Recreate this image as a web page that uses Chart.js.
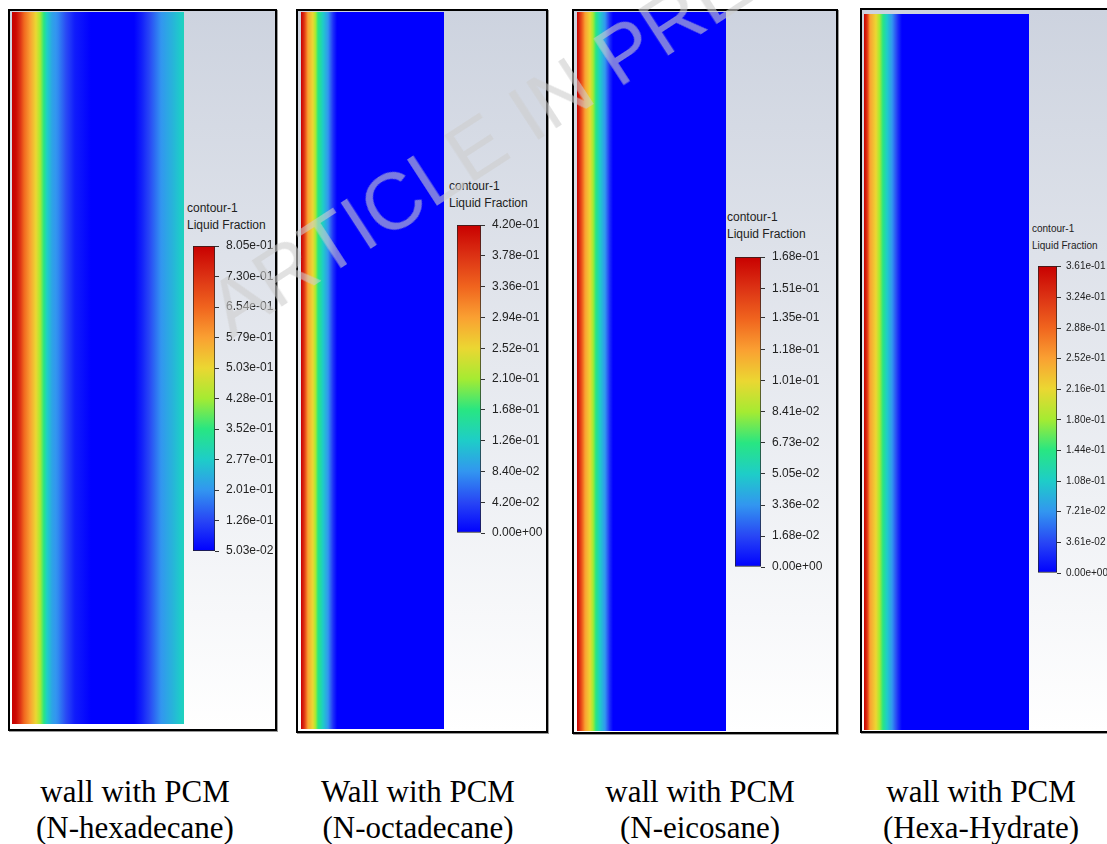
<!DOCTYPE html>
<html>
<head>
<meta charset="utf-8">
<script src="https://cdn.jsdelivr.net/npm/chart.js@4.4.1/dist/chart.umd.min.js"></script>
<style>
    body { margin: 0; width: 1107px; height: 844px; overflow: hidden; background: #fff; position: relative; font-family: "Liberation Sans", Arial, sans-serif; }
    .panel { position: absolute; border: 2px solid #000; box-sizing: border-box; background: linear-gradient(to bottom, #cdd3df 0%, #ffffff 100%); box-shadow: 1px 1px 0 #999; }
    canvas { position: absolute; }
    .ctitle { position: absolute; font-size: 12px; line-height: 17px; color: #222; white-space: nowrap; }
    .caption { position: absolute; width: 280px; text-align: center; font-family: "Liberation Serif", "Times New Roman", serif; font-size: 31px; line-height: 36px; color: #000; }
    .watermark { position: absolute; left: 232px; top: 272px; font-size: 80px; line-height: 80px; white-space: nowrap; color: rgba(205, 205, 205, 0.6); transform-origin: 0 68px; transform: rotate(-33deg); pointer-events: none; }
</style>
</head>
<body>
<div class="panel" style="left:8px;top:9px;width:269px;height:722px"></div>
<div class="panel" style="left:296px;top:9px;width:252px;height:724px"></div>
<div class="panel" style="left:572px;top:9px;width:266px;height:725px"></div>
<div class="panel" style="left:860px;top:8px;width:252px;height:725px"></div>

<canvas id="strip1" width="172" height="712" style="left:12px;top:12px"></canvas>
<canvas id="strip2" width="143" height="717" style="left:301px;top:12px"></canvas>
<canvas id="strip3" width="149" height="719" style="left:577px;top:12px"></canvas>
<canvas id="strip4" width="165" height="716" style="left:864px;top:14px"></canvas>

<div class="ctitle" style="left:187px;top:200px">contour-1<br>Liquid Fraction</div>
<div class="ctitle" style="left:449px;top:178px">contour-1<br>Liquid Fraction</div>
<div class="ctitle" style="left:727px;top:209px">contour-1<br>Liquid Fraction</div>
<div class="ctitle" style="left:1032px;top:220px;font-size:10px">contour-1<br>Liquid Fraction</div>

<canvas id="bar1" width="84" height="321" style="left:193px;top:238px"></canvas>
<canvas id="bar2" width="86" height="324" style="left:457px;top:217px"></canvas>
<canvas id="bar3" width="88" height="326" style="left:735px;top:249px"></canvas>
<canvas id="bar4" width="70" height="323" style="left:1038px;top:258px"></canvas>

<div class="caption" style="left:-5px;top:774px">wall with PCM<br>(N-hexadecane)</div>
<div class="caption" style="left:278px;top:774px">Wall with PCM<br>(N-octadecane)</div>
<div class="caption" style="left:560px;top:774px">wall with PCM<br>(N-eicosane)</div>
<div class="caption" style="left:841px;top:774px">wall with PCM<br>(Hexa-Hydrate)</div>

<div class="watermark">ARTICLE IN PRESS</div>

<script>
    // colour map (fraction of range -> rgb)
    var cmapStops = [0, 0.1, 0.2, 0.3, 0.4, 0.5, 0.6, 0.7, 0.8, 0.9, 1];
    var cmapColors = [
        [0, 0, 255], [40, 70, 245], [50, 150, 240], [30, 205, 200], [40, 230, 130],
        [165, 235, 50], [235, 215, 50], [250, 160, 50], [240, 100, 30], [220, 50, 20], [200, 0, 0]
    ];

    // liquid fraction across the wall (position = fraction of PCM layer thickness)
    var hexPos = [0, 0.023, 0.047, 0.070, 0.105, 0.140, 0.163, 0.186, 0.203, 0.233, 0.267, 0.314, 0.366, 0.459, 0.709, 0.750, 0.802, 0.866, 0.930, 1];
    var hexVal = [0.805, 0.79, 0.73, 0.65, 0.58, 0.50, 0.43, 0.35, 0.28, 0.22, 0.19, 0.13, 0.08, 0.0503, 0.0503, 0.08, 0.13, 0.20, 0.24, 0.29];
    var hexTicks = ['5.03e-02', '1.26e-01', '2.01e-01', '2.77e-01', '3.52e-01', '4.28e-01', '5.03e-01', '5.79e-01', '6.54e-01', '7.30e-01', '8.05e-01'];

    var octPos = [0, 0.021, 0.049, 0.084, 0.119, 0.154, 0.189, 0.224, 0.252, 1];
    var octVal = [0.42, 0.38, 0.29, 0.25, 0.17, 0.126, 0.084, 0.03, 0, 0];
    var octTicks = ['0.00e+00', '4.20e-02', '8.40e-02', '1.26e-01', '1.68e-01', '2.10e-01', '2.52e-01', '2.94e-01', '3.36e-01', '3.78e-01', '4.20e-01'];

    var eicPos = [0, 0.020, 0.054, 0.087, 0.128, 0.154, 0.188, 0.221, 0.242, 1];
    var eicVal = [0.168, 0.151, 0.118, 0.101, 0.067, 0.050, 0.034, 0.01, 0, 0];
    var eicTicks = ['0.00e+00', '1.68e-02', '3.36e-02', '5.05e-02', '6.73e-02', '8.41e-02', '1.01e-01', '1.18e-01', '1.35e-01', '1.51e-01', '1.68e-01'];

    var hydPos = [0, 0.018, 0.036, 0.073, 0.115, 0.139, 0.170, 0.206, 0.230, 1];
    var hydVal = [0.361, 0.325, 0.253, 0.216, 0.144, 0.108, 0.072, 0.025, 0, 0];
    var hydTicks = ['0.00e+00', '3.61e-02', '7.21e-02', '1.08e-01', '1.44e-01', '1.80e-01', '2.16e-01', '2.52e-01', '2.88e-01', '3.24e-01', '3.61e-01'];

    Chart.defaults.font.family = '"Liberation Sans", Arial, sans-serif';

    function cmap(t) {
        t = Math.max(0, Math.min(1, t));
        for (var i = 1; i < cmapStops.length; i++) {
            if (t <= cmapStops[i]) {
                var f = (t - cmapStops[i - 1]) / (cmapStops[i] - cmapStops[i - 1]);
                var a = cmapColors[i - 1], b = cmapColors[i];
                return 'rgb(' + Math.round(a[0] + (b[0] - a[0]) * f) + ',' + Math.round(a[1] + (b[1] - a[1]) * f) + ',' + Math.round(a[2] + (b[2] - a[2]) * f) + ')';
            }
        }
        return 'rgb(200,0,0)';
    }

    function stripFill(pos, val, vmin, vmax) {
        return function(context) {
            var chart = context.chart;
            if (!chart.chartArea) return 'blue';
            var xs = chart.scales.x;
            var x0 = xs.getPixelForValue(pos[0]);
            var x1 = xs.getPixelForValue(pos[pos.length - 1]);
            var g = chart.ctx.createLinearGradient(x0, 0, x1, 0);
            for (var i = 0; i < pos.length - 1; i++) {
                for (var k = 0; k < 8; k++) {
                    var f = k / 8;
                    var p = pos[i] + (pos[i + 1] - pos[i]) * f;
                    var v = val[i] + (val[i + 1] - val[i]) * f;
                    g.addColorStop((xs.getPixelForValue(p) - x0) / (x1 - x0), cmap((v - vmin) / (vmax - vmin)));
                }
            }
            g.addColorStop(1, cmap((val[val.length - 1] - vmin) / (vmax - vmin)));
            return g;
        };
    }

    function makeStrip(id, pos, val, ticks) {
        var vmin = parseFloat(ticks[0]), vmax = parseFloat(ticks[ticks.length - 1]);
        new Chart(document.getElementById(id).getContext('2d'), {
            type: 'bar',
            data: {
                labels: ['PCM'],
                datasets: [{
                    data: [[0, 1]],
                    backgroundColor: stripFill(pos, val, vmin, vmax),
                    borderWidth: 0,
                    barPercentage: 1,
                    categoryPercentage: 1
                }]
            },
            options: {
                indexAxis: 'y',
                responsive: false,
                animation: false,
                layout: { padding: 0 },
                plugins: { legend: { display: false }, tooltip: { enabled: false } },
                scales: {
                    x: { type: 'linear', min: 0, max: 1, display: false },
                    y: { display: false }
                }
            }
        });
    }

    function makeColorbar(id, ticks, barWidth, fontSize, tickPad) {
        var values = ticks.map(parseFloat);
        var vmin = values[0], vmax = values[values.length - 1];
        var canvas = document.getElementById(id);
        new Chart(canvas.getContext('2d'), {
            type: 'bar',
            data: {
                labels: [''],
                datasets: [{
                    data: [[vmin, vmax]],
                    backgroundColor: function(context) {
                        var chart = context.chart;
                        if (!chart.chartArea) return 'blue';
                        var ys = chart.scales.y;
                        var g = chart.ctx.createLinearGradient(0, ys.getPixelForValue(vmin), 0, ys.getPixelForValue(vmax));
                        for (var i = 0; i < cmapStops.length; i++) {
                            g.addColorStop(cmapStops[i], cmap(cmapStops[i]));
                        }
                        return g;
                    },
                    borderColor: '#222',
                    borderWidth: 1,
                    borderSkipped: false,
                    barPercentage: 1,
                    categoryPercentage: 1
                }]
            },
            options: {
                responsive: false,
                animation: false,
                layout: { padding: { top: 8, bottom: 8, left: 0, right: 0 } },
                plugins: { legend: { display: false }, tooltip: { enabled: false } },
                scales: {
                    x: { display: false },
                    y: {
                        position: 'right',
                        min: vmin,
                        max: vmax,
                        afterBuildTicks: function(scale) {
                            scale.ticks = values.map(function(v) { return { value: v }; });
                        },
                        afterFit: function(scale) {
                            scale.width = canvas.width - barWidth;
                            scale.paddingTop = 0;
                            scale.paddingBottom = 0;
                        },
                        border: { display: false },
                        grid: { drawOnChartArea: false, tickLength: 4, color: '#333', lineWidth: 1 },
                        ticks: {
                            autoSkip: false,
                            padding: tickPad,
                            color: '#222',
                            font: { size: fontSize },
                            callback: function(value, index) { return ticks[index]; }
                        }
                    }
                }
            }
        });
    }

    makeStrip('strip1', hexPos, hexVal, hexTicks);
    makeStrip('strip2', octPos, octVal, octTicks);
    makeStrip('strip3', eicPos, eicVal, eicTicks);
    makeStrip('strip4', hydPos, hydVal, hydTicks);

    makeColorbar('bar1', hexTicks, 22, 12, 7);
    makeColorbar('bar2', octTicks, 24, 12, 7);
    makeColorbar('bar3', eicTicks, 26, 12, 7);
    makeColorbar('bar4', hydTicks, 19, 10, 5);
</script>
</body>
</html>
